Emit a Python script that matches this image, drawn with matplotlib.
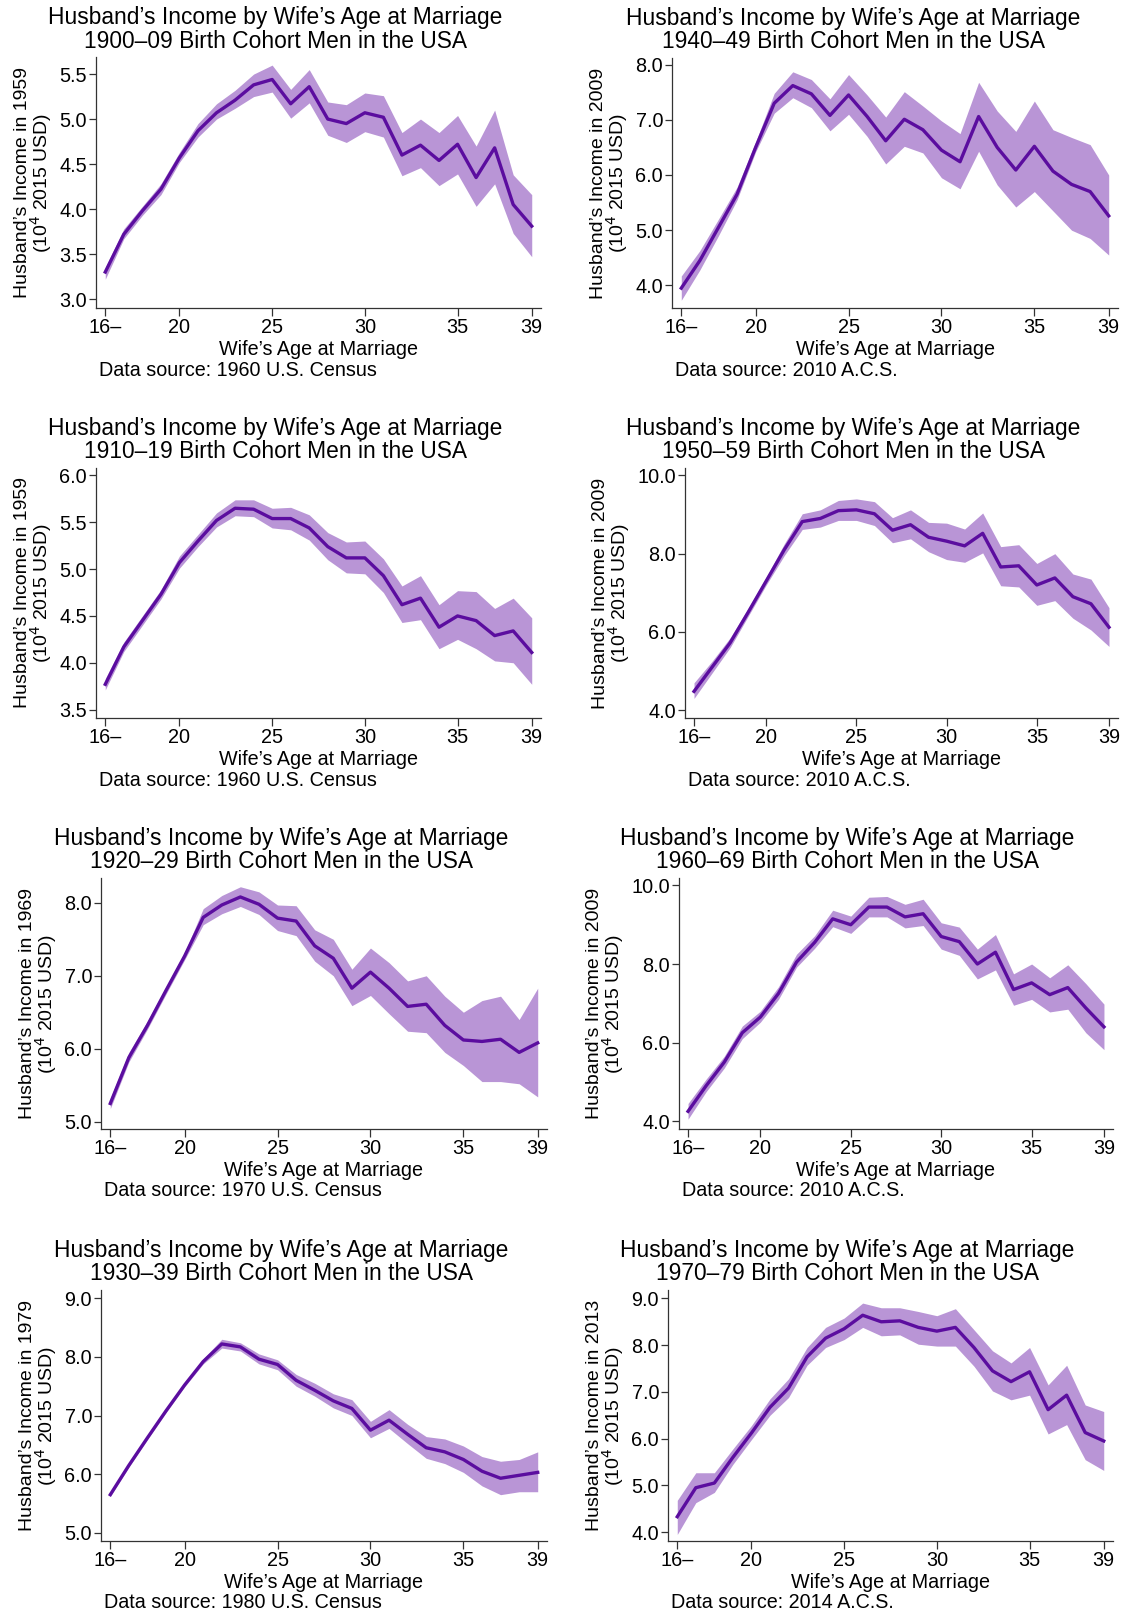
import numpy as np
import matplotlib
matplotlib.use('Agg')
import matplotlib.pyplot as plt

plt.rcParams['font.family'] = ['Liberation Sans', 'DejaVu Sans']

ages = list(range(16, 40))
xticks = [16, 20, 25, 30, 35, 39]
xticklabels = ['16\u2013', '20', '25', '30', '35', '39']

# 1900-09 cohort, 1960 Census
m1900 = [3.30, 3.72, 3.98, 4.22, 4.57, 4.87, 5.07, 5.21, 5.38, 5.44, 5.17, 5.36,
         5.00, 4.95, 5.07, 5.02, 4.60, 4.71, 4.54, 4.72, 4.35, 4.68, 4.05, 3.81]
lo1900 = [3.22, 3.67, 3.93, 4.16, 4.52, 4.80, 5.00, 5.12, 5.25, 5.30, 5.01, 5.18,
          4.82, 4.74, 4.86, 4.80, 4.37, 4.46, 4.26, 4.39, 4.03, 4.28, 3.73, 3.47]
hi1900 = [3.35, 3.78, 4.03, 4.28, 4.63, 4.95, 5.17, 5.32, 5.50, 5.60, 5.33, 5.55,
          5.19, 5.16, 5.29, 5.26, 4.85, 5.00, 4.85, 5.04, 4.70, 5.10, 4.38, 4.16]

# 1910-19 cohort, 1960 Census
m1910 = [3.77, 4.17, 4.45, 4.73, 5.07, 5.30, 5.52, 5.65, 5.64, 5.54, 5.54, 5.44,
         5.24, 5.12, 5.12, 4.93, 4.62, 4.69, 4.38, 4.50, 4.45, 4.29, 4.34, 4.11]
lo1910 = [3.71, 4.12, 4.40, 4.68, 5.01, 5.24, 5.45, 5.57, 5.56, 5.44, 5.42, 5.31,
          5.10, 4.96, 4.95, 4.75, 4.43, 4.46, 4.15, 4.25, 4.15, 4.02, 4.00, 3.77]
hi1910 = [3.83, 4.22, 4.50, 4.78, 5.14, 5.37, 5.60, 5.74, 5.74, 5.65, 5.66, 5.58,
          5.39, 5.29, 5.30, 5.11, 4.82, 4.93, 4.62, 4.77, 4.76, 4.58, 4.69, 4.48]

# 1920-29 cohort, 1970 Census
m1920 = [5.25, 5.88, 6.32, 6.80, 7.27, 7.80, 7.97, 8.08, 7.98, 7.79, 7.75, 7.41,
         7.24, 6.83, 7.05, 6.83, 6.58, 6.61, 6.32, 6.12, 6.10, 6.13, 5.95, 6.08]
lo1920 = [5.18, 5.82, 6.27, 6.75, 7.22, 7.70, 7.85, 7.95, 7.84, 7.62, 7.55, 7.20,
          7.00, 6.59, 6.73, 6.48, 6.24, 6.22, 5.95, 5.77, 5.55, 5.55, 5.52, 5.34]
hi1920 = [5.32, 5.95, 6.38, 6.85, 7.32, 7.92, 8.10, 8.22, 8.15, 7.97, 7.96, 7.63,
          7.50, 7.09, 7.38, 7.18, 6.93, 7.00, 6.72, 6.50, 6.66, 6.72, 6.40, 6.83]

# 1930-39 cohort, 1980 Census
m1930 = [5.65, 6.15, 6.62, 7.08, 7.52, 7.92, 8.22, 8.17, 7.96, 7.87, 7.60, 7.43,
         7.25, 7.12, 6.75, 6.92, 6.68, 6.45, 6.38, 6.25, 6.05, 5.93, 5.98, 6.03]
lo1930 = [5.62, 6.12, 6.59, 7.05, 7.49, 7.88, 8.15, 8.10, 7.88, 7.78, 7.50, 7.33,
          7.13, 7.00, 6.62, 6.78, 6.52, 6.27, 6.18, 6.03, 5.80, 5.65, 5.70, 5.70]
hi1930 = [5.68, 6.18, 6.65, 7.11, 7.55, 7.97, 8.30, 8.24, 8.05, 7.95, 7.70, 7.55,
          7.37, 7.27, 6.90, 7.10, 6.85, 6.64, 6.60, 6.48, 6.30, 6.22, 6.25, 6.38]

# 1940-49 cohort, 2010 ACS
m1940 = [3.95, 4.45, 5.05, 5.65, 6.50, 7.30, 7.62, 7.47, 7.08, 7.45, 7.06, 6.62,
         7.01, 6.82, 6.45, 6.24, 7.06, 6.50, 6.09, 6.52, 6.07, 5.83, 5.70, 5.26]
lo1940 = [3.73, 4.28, 4.90, 5.55, 6.42, 7.12, 7.40, 7.22, 6.80, 7.10, 6.70, 6.20,
          6.52, 6.40, 5.95, 5.75, 6.43, 5.82, 5.42, 5.70, 5.35, 5.00, 4.85, 4.55]
hi1940 = [4.17, 4.63, 5.20, 5.78, 6.60, 7.48, 7.87, 7.73, 7.38, 7.82, 7.45, 7.05,
          7.51, 7.25, 6.98, 6.75, 7.68, 7.16, 6.79, 7.34, 6.82, 6.68, 6.55, 6.00]

# 1950-59 cohort, 2010 ACS
m1950 = [4.48, 5.10, 5.72, 6.50, 7.30, 8.10, 8.82, 8.90, 9.10, 9.12, 9.02, 8.60,
         8.74, 8.42, 8.32, 8.20, 8.52, 7.66, 7.69, 7.20, 7.38, 6.90, 6.72, 6.12]
lo1950 = [4.30, 4.95, 5.60, 6.40, 7.20, 7.95, 8.62, 8.68, 8.85, 8.85, 8.72, 8.28,
          8.38, 8.05, 7.85, 7.78, 8.02, 7.18, 7.15, 6.68, 6.80, 6.35, 6.05, 5.63]
hi1950 = [4.70, 5.25, 5.85, 6.60, 7.40, 8.25, 9.02, 9.12, 9.36, 9.40, 9.33, 8.92,
          9.12, 8.80, 8.78, 8.63, 9.04, 8.18, 8.23, 7.75, 8.00, 7.48, 7.35, 6.62]

# 1960-69 cohort, 2010 ACS
m1960 = [4.25, 4.90, 5.50, 6.25, 6.65, 7.25, 8.05, 8.55, 9.15, 9.00, 9.45, 9.45,
         9.20, 9.28, 8.70, 8.57, 8.00, 8.30, 7.35, 7.52, 7.22, 7.40, 6.88, 6.40]
lo1960 = [4.05, 4.75, 5.35, 6.10, 6.52, 7.10, 7.92, 8.40, 8.95, 8.78, 9.20, 9.20,
          8.92, 8.98, 8.38, 8.22, 7.62, 7.85, 6.95, 7.10, 6.78, 6.85, 6.25, 5.82]
hi1960 = [4.45, 5.07, 5.65, 6.42, 6.80, 7.42, 8.25, 8.72, 9.37, 9.22, 9.70, 9.72,
          9.52, 9.65, 9.05, 8.94, 8.38, 8.75, 7.75, 8.00, 7.65, 7.98, 7.50, 6.98]

# 1970-79 cohort, 2014 ACS
m1970 = [4.33, 4.95, 5.05, 5.60, 6.12, 6.67, 7.08, 7.75, 8.15, 8.35, 8.64, 8.50,
         8.52, 8.38, 8.30, 8.38, 7.95, 7.45, 7.22, 7.43, 6.62, 6.93, 6.13, 5.95]
lo1970 = [3.95, 4.63, 4.85, 5.45, 5.98, 6.50, 6.88, 7.57, 7.95, 8.12, 8.38, 8.20,
          8.22, 8.02, 7.98, 7.98, 7.55, 7.02, 6.83, 6.93, 6.10, 6.30, 5.55, 5.32]
hi1970 = [4.68, 5.27, 5.27, 5.78, 6.28, 6.85, 7.28, 7.95, 8.38, 8.58, 8.90, 8.80,
          8.80, 8.72, 8.63, 8.78, 8.33, 7.88, 7.62, 7.95, 7.15, 7.57, 6.72, 6.58]

cohorts = ['1900\u201309', '1910\u201319', '1920\u201329', '1930\u201339',
           '1940\u201349', '1950\u201359', '1960\u201369', '1970\u201379']
inc_years = ['1959', '1959', '1969', '1979', '2009', '2009', '2009', '2013']
sources = ['1960 U.S. Census', '1960 U.S. Census', '1970 U.S. Census', '1980 U.S. Census',
           '2010 A.C.S.', '2010 A.C.S.', '2010 A.C.S.', '2014 A.C.S.']
means = [m1900, m1910, m1920, m1930, m1940, m1950, m1960, m1970]
lows = [lo1900, lo1910, lo1920, lo1930, lo1940, lo1950, lo1960, lo1970]
highs = [hi1900, hi1910, hi1920, hi1930, hi1940, hi1950, hi1960, hi1970]
yticks = [[3.0, 3.5, 4.0, 4.5, 5.0, 5.5], [3.5, 4.0, 4.5, 5.0, 5.5, 6.0],
          [5.0, 6.0, 7.0, 8.0], [5.0, 6.0, 7.0, 8.0, 9.0],
          [4.0, 5.0, 6.0, 7.0, 8.0], [4.0, 6.0, 8.0, 10.0],
          [4.0, 6.0, 8.0, 10.0], [4.0, 5.0, 6.0, 7.0, 8.0, 9.0]]
ylims = [(2.9, 5.69), (3.41, 6.08), (4.9, 8.34), (4.86, 9.14),
         (3.59, 8.12), (3.8, 10.19), (3.8, 10.19), (3.81, 9.18)]

W, H = 1124, 1614
fig = plt.figure(figsize=(W / 100, H / 100), dpi=100)

# axes boxes in pixels: left, right, top, bottom
boxes = [(96, 541, 57, 308), (96, 541, 468, 718), (101, 547, 878, 1129), (101, 547, 1290, 1541),
         (672, 1118, 58, 308), (685, 1118, 468, 718), (679, 1113, 878, 1129), (668, 1113, 1290, 1541)]
title_centers = [275, 275, 281, 281, 853, 853, 847, 847]

line_c = '#5B0D9F'
band_c = '#B995D6'

for i in range(8):
    l, r, t, b = boxes[i]
    ax = fig.add_axes([l / W, 1 - b / H, (r - l) / W, (b - t) / H])
    ax.fill_between(ages, lows[i], highs[i], color=band_c, linewidth=0)
    ax.plot(ages, means[i], color=line_c, linewidth=2.4)
    ax.set_xlim(15.5, 39.5)
    ax.set_ylim(*ylims[i])
    ax.set_xticks(xticks)
    ax.set_xticklabels(xticklabels)
    ax.set_yticks(yticks[i])
    ax.set_yticklabels(['%.1f' % v for v in yticks[i]])
    for s in ['top', 'right']:
        ax.spines[s].set_visible(False)
    for s in ['left', 'bottom']:
        ax.spines[s].set_color('#333333')
        ax.spines[s].set_linewidth(0.9)
    ax.tick_params(axis='both', length=5.4, width=0.9, color='#333333', labelsize=14.3)
    ax.tick_params(axis='x', pad=1.5)
    ax.tick_params(axis='y', pad=1)
    ax.set_xlabel("Wife\u2019s Age at Marriage", fontsize=14.2, labelpad=2.5)
    ax.set_ylabel("Husband\u2019s Income in %s\n(10$^4$ 2015 USD)" % inc_years[i],
                  fontsize=14, labelpad=4, linespacing=0.86)
    fig.text(title_centers[i] / W, 1 - (t - 4.5) / H,
             "Husband\u2019s Income by Wife\u2019s Age at Marriage\n%s Birth Cohort Men in the USA" % cohorts[i],
             ha='center', va='bottom', fontsize=16.4, linespacing=1.04)
    fig.text((l + 3) / W, 1 - (b + 62) / H, "Data source: " + sources[i],
             ha='left', va='center', fontsize=14.2)

fig.savefig('out.png', dpi=100, facecolor='white')
